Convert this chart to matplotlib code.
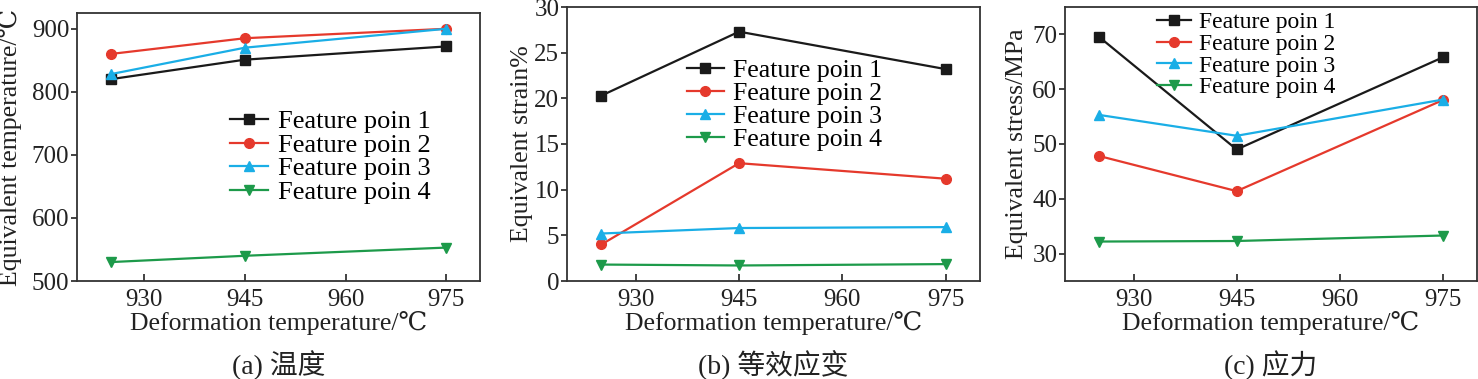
import matplotlib
matplotlib.use('Agg')
import matplotlib.pyplot as plt

plt.rcParams['font.family'] = ['Liberation Serif', 'DejaVu Serif', 'Noto Sans CJK SC']

# deformation temperature (x)
temps = [925, 945, 975]
xticks = [930, 945, 960, 975]
labels = ['Feature poin 1', 'Feature poin 2', 'Feature poin 3', 'Feature poin 4']

# (a) equivalent temperature
temp_p1 = [820, 851, 872]
temp_p2 = [860, 885, 900]
temp_p3 = [828, 870, 900]
temp_p4 = [530, 540, 553]

# (b) equivalent strain %
strain_p1 = [20.3, 27.3, 23.2]
strain_p2 = [4.0, 12.9, 11.2]
strain_p3 = [5.2, 5.8, 5.9]
strain_p4 = [1.8, 1.7, 1.85]

# (c) equivalent stress MPa
stress_p1 = [69.5, 49.0, 65.8]
stress_p2 = [47.8, 41.4, 58.0]
stress_p3 = [55.3, 51.5, 58.1]
stress_p4 = [32.2, 32.3, 33.3]

colors = ['#1a1a1a', '#e5392c', '#1aaee6', '#1d9a4a']
markers = ['s', 'o', '^', 'v']

fig = plt.figure(figsize=(14.78, 3.79), dpi=100)
W, H = 1478.0, 379.0

def make_ax(l, r, t, b):
    return fig.add_axes([l / W, 1 - b / H, (r - l) / W, (b - t) / H])

panels = [
    dict(box=(77, 480, 13, 281), data=[temp_p1, temp_p2, temp_p3, temp_p4],
         ylim=(500, 925), yticks=[500, 600, 700, 800, 900],
         ylabel='Equivalent temperature/℃', caption='(a) 温度',
         leg=(0.38, 0.638), lfs=19, ylx=-0.166),
    dict(box=(567, 980, 7, 281), data=[strain_p1, strain_p2, strain_p3, strain_p4],
         ylim=(0, 30), yticks=[0, 5, 10, 15, 20, 25, 30],
         ylabel='Equivalent strain%', caption='(b) 等效应变',
         leg=(0.29, 0.81), lfs=18.5, ylx=-0.109),
    dict(box=(1065, 1477, 7, 281), data=[stress_p1, stress_p2, stress_p3, stress_p4],
         ylim=(25, 75), yticks=[30, 40, 50, 60, 70],
         ylabel='Equivalent stress/MPa', caption='(c) 应力',
         leg=(0.223, 0.982), lfs=17, ylx=-0.1165),
]

for p in panels:
    l, r, t, b = p['box']
    ax = make_ax(l, r, t, b)
    for ys, c, m, lab in zip(p['data'], colors, markers, labels):
        ax.plot(temps, ys, color=c, marker=m, markersize=7, linewidth=1.6, label=lab)
    ax.set_xlim(920, 980)
    ax.set_ylim(*p['ylim'])
    ax.set_xticks(xticks)
    ax.set_yticks(p['yticks'])
    ax.tick_params(axis='x', direction='in', length=5, width=1.2, pad=6, labelsize=18, colors='#222222')
    ax.tick_params(axis='y', direction='out', length=4, width=1.2, pad=1.5, labelsize=18, colors='#222222')
    for s in ax.spines.values():
        s.set_linewidth(1.3)
        s.set_color('#333333')
    ax.set_xlabel('Deformation temperature/℃', fontsize=18.5, color='#222222', va='center')
    ax.xaxis.set_label_coords(0.5, (b - 323) / (b - t))
    ax.set_ylabel(p['ylabel'], fontsize=18.5, color='#222222', va='center')
    ax.yaxis.set_label_coords(p['ylx'], 0.5)
    ax.legend(loc='upper left', bbox_to_anchor=p['leg'], frameon=False, fontsize=p['lfs'],
              labelspacing=0.0, handlelength=1.45, handletextpad=0.35,
              borderpad=0.0, borderaxespad=0.0)
    fig.text((l + r) / 2 / W, 1 - 365 / H, p['caption'], ha='center', va='center',
             fontsize=20, color='#222222')

fig.savefig('out.png', dpi=100)
